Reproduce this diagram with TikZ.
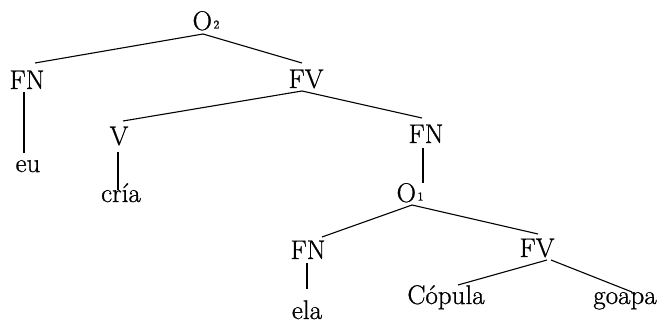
\documentclass[tikz,border=0pt]{standalone}
\usepackage{fontspec}
\usetikzlibrary{positioning}

% a slightly heavier roman for the tree labels
\newfontfamily\treefont{Latin Modern Roman}[FakeBold=0.8]
% small raised index for the sentence nodes
\newcommand{\idx}[1]{\kern1.5pt\raisebox{1.5pt}{\fontsize{12}{12}\selectfont #1}}

\begin{document}
\begin{tikzpicture}[x=1pt,y=-1pt,
                    line width=1.1pt,
                    every node/.style={anchor=base,inner sep=0pt,
                                       font=\treefont\fontsize{27}{32}\selectfont}]

\useasboundingbox (0,0) rectangle (664,323);

% ---------------------------------------------------------------
% Labels (placed at their baselines)
\node (O2)  at (206,30)  {O\idx{2}};
\node (FNa) at (27,89)   {FN};
\node (FVa) at (306,88)  {FV};
\node (eu)  at (28,172)  {eu};
\node (V)   at (119,145) {V};
\node (cria) at (121,202) {cría};
\node (FNb) at (426,143) {FN};
\node (O1)  at (410,202) {O\idx{1}};
\node (FNc) at (308,259) {FN};
\node (FVb) at (537,257) {FV};
\node (ela) at (307,319) {ela};
\node (cop) at (446,304) {Cópula};
\node (goapa) at (625,304) {goapa};

% ---------------------------------------------------------------
% Branches
\draw ([shift={(-3,4)}]O2.base)  -- ([shift={(8,-26)}]FNa.base);
\draw ([shift={(-3,4)}]O2.base)  -- ([shift={(-4,-25)}]FVa.base);
\draw ([shift={(-3,3)}]FNa.base) -- ([shift={(-4,-19)}]eu.base);
\draw ([shift={(-4,3)}]FVa.base) -- ([shift={(4,-24)}]V.base);
\draw ([shift={(-4,3)}]FVa.base) -- ([shift={(-4,-25)}]FNb.base);
\draw ([shift={(-1,7)}]V.base)   -- ([shift={(-3,-12)}]cria.base);
\draw ([shift={(-3,5)}]FNb.base) -- ([shift={(13,-19)}]O1.base);
\draw ([shift={(2,3)}]O1.base)   -- ([shift={(14,-22)}]FNc.base);
\draw ([shift={(2,3)}]O1.base)   -- ([shift={(1,-23)}]FVb.base);
\draw ([shift={(-1,4)}]FNc.base) -- ([shift={(0,-30)}]ela.base);
\draw ([shift={(10,3)}]FVb.base) -- ([shift={(12,-19)}]cop.base);
\draw ([shift={(14,3)}]FVb.base) -- ([shift={(7,-12)}]goapa.base);

\end{tikzpicture}
\end{document}
